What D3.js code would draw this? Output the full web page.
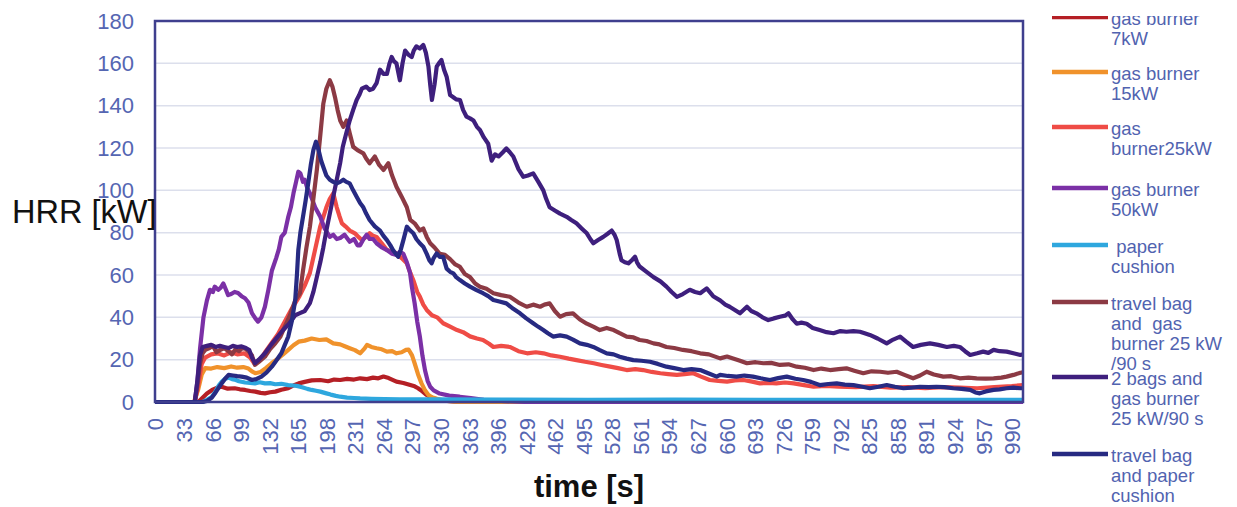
<!DOCTYPE html>
<html>
<head>
<meta charset="utf-8">
<script src="https://cdn.jsdelivr.net/npm/d3@7"></script>
<style>
  html, body { margin: 0; padding: 0; background: #ffffff; }
  svg { display: block; font-family: "Liberation Sans", Arial, sans-serif; }
</style>
</head>
<body>
<svg id="chart" width="1237" height="507"></svg>
<script>
// ---------------- DATA ----------------
const xTickValues = d3.range(0, 991, 33);       // 0, 33, ..., 990
const yTickValues = [0, 20, 40, 60, 80, 100, 120, 140, 160, 180];
const timeMax = 1003;

const seriesNames = [
  "gas burner 7kW", "gas burner 15kW", "gas burner25kW", "gas burner 50kW",
  "paper cushion", "travel bag and gas burner 25 kW/90 s",
  "2 bags and gas burner 25 kW/90 s", "travel bag and paper cushion"
];
const legendLines = [
  ["gas burner", "7kW"],
  ["gas burner", "15kW"],
  ["gas", "burner25kW"],
  ["gas burner", "50kW"],
  [" paper", "cushion"],
  ["travel bag", "and  gas", "burner 25 kW", "/90 s"],
  ["2 bags and", "gas burner", "25 kW/90 s"],
  ["travel bag", "and paper", "cushion"]
];
const seriesColors = ["#b51f25", "#f0922b", "#ef4c46", "#7b30a6", "#2ea7de", "#8c3a44", "#3e1f7d", "#272a82"];

// [time s, HRR kW]
const gasBurner7 = [[0,0],[50,0],[55,2],[60,4],[66,5.7],[72,6.8],[77,7.2],[84,6.3],[92,6.5],[98,6],[104,5.7],[110,5.2],[116,4.9],[122,4.3],[127,4.1],[133,4.6],[139,4.9],[146,5.8],[154,6.5],[160,7.8],[166,8.8],[173,9.5],[181,10.2],[191,10.4],[200,9.8],[207,10.6],[214,10.4],[222,10.9],[230,10.6],[237,11.2],[245,10.8],[252,11.5],[258,11.2],[264,12],[270,11.3],[279,9.6],[287,9],[295,8],[300,7.4],[304,6.5],[309,5],[314,3.3],[318,2.4],[322,1.7],[330,0.8],[345,0.3],[370,0],[1003,0]];

const gasBurner15 = [[0,0],[45,0],[50,6],[54,13],[58,16],[65,15.8],[72,16.5],[80,16],[88,16.8],[95,16.2],[102,16.5],[108,15.8],[112,14.5],[116,13.6],[122,14.2],[128,16],[135,18.4],[142,20.5],[148,22.5],[154,24.6],[160,26.8],[166,28.5],[173,29],[181,30],[190,29.3],[198,29.6],[206,27.7],[214,27.2],[220,26.2],[225,25.4],[231,24.5],[237,23],[242,25.2],[245,27],[250,26],[256,25.4],[262,24.9],[268,23.8],[274,24],[279,23],[285,23.5],[290,24.6],[293,24.8],[297,22],[300,18.3],[304,13],[308,8.8],[312,5.5],[316,3.3],[320,2.2],[326,1.5],[335,0.6],[350,0],[1003,0]];

const gasBurner25 = [[0,0],[46,0],[50,8],[54,18],[58,21],[65,22.5],[72,23],[80,22],[88,23.5],[95,22.5],[103,23],[110,21],[115,18],[122,20],[128,24],[135,28],[142,32],[150,38],[158,44],[167,50],[173,55],[179,61],[185,72],[191,83],[198,92],[202,96],[206,98.6],[210,92],[213,88],[216,84.4],[220,83],[225,81],[231,79.7],[235,78],[239,76.5],[244,78],[248,79.7],[252,78.5],[256,78],[262,75],[268,71.8],[274,71],[279,70.2],[285,68],[291,65.5],[295,61],[299,57],[303,52],[306,49.8],[310,46],[314,43.5],[320,41],[326,40],[333,37.2],[341,35.6],[349,34],[356,33],[364,31],[372,30],[379,29.3],[386,27.5],[391,26],[400,26.5],[410,26],[420,24],[430,23],[440,23.5],[449,23],[458,22],[468,21.4],[478,20.5],[487,19.8],[497,19],[507,18.3],[516,17.5],[526,16.7],[535,16],[545,15.1],[555,15.5],[564,15.1],[574,14.2],[584,13.6],[593,13.2],[603,12.8],[612,13.2],[622,13.6],[631,12],[641,10.4],[651,10],[661,9.6],[670,10.2],[680,10.4],[690,9.6],[699,8.8],[709,9],[718,8.8],[728,9.2],[738,8.8],[750,8],[761,7.2],[775,7.6],[790,7.2],[810,7],[830,7.5],[850,6.8],[870,7],[890,6.5],[910,7],[930,6.8],[950,6.5],[970,7],[990,7.5],[1003,8]];

const gasBurner50 = [[0,0],[46,0],[49,10],[52,25],[56,40],[60,48],[63.5,53],[67,52],[69,54.5],[73,53],[76,54],[79,56],[82,53],[84.5,50.5],[88,51],[92,52],[96,51.5],[100,50],[104,49],[108,47],[112,42],[116,39.5],[119,38],[123,40],[127,45],[131,53],[135,62],[140,68],[143,72],[146,78],[150,80],[154,87.5],[157,92],[160,98.6],[163,104],[165.6,108.8],[168,108],[171,104],[173,105],[176,101],[179,98.6],[185,92],[191,87.5],[196,82],[202,78],[206,79],[210,77],[214,77.5],[219,79],[225,75.7],[230,77],[234,74],[237,74],[241,77],[244.6,79],[248,77],[252,77],[256,75],[262,73],[268,71.8],[274,70],[279,69.4],[283,71],[287,70],[291,66],[294.7,61],[297,54],[300,46.7],[303,38],[306,31],[309,22],[312,15],[315,10],[318,7.2],[322,5.5],[329,4],[340,3],[352,2.5],[365,1.8],[380,1],[400,0.5],[430,0],[1003,0]];

const paperCushion = [[0,0],[55,0],[60,1],[65.5,2.4],[70,5],[74,8],[77,9.5],[81,11],[85,11.5],[89,10.8],[92,10.6],[97,9.8],[104,9.2],[110,9],[115.5,8.8],[121,9.3],[127,8.8],[133,8.9],[139,8.4],[146,8.6],[154,8],[160,7.8],[165,7.5],[170,7],[176,6.2],[181,5.7],[186,5.3],[191,4.9],[197,4.2],[203,3.5],[209,2.9],[214,2.5],[222,2.1],[230,1.9],[237,1.7],[250,1.5],[265,1.4],[283,1.3],[320,1.2],[400,1.1],[500,1],[600,1.1],[700,1],[800,1],[900,1],[1003,1]];

const travelBagGasBurner = [[0,0],[46,0],[49,8],[52,18],[55,23],[58,24.6],[63,25.5],[67,26.5],[71,23.5],[75,24.5],[80,25.5],[85,24],[89,22.5],[93,25],[97,24],[101,25.5],[105,25],[109,23.5],[112,22],[115.5,17.6],[120,19],[127,21.4],[133,25],[139,27.7],[145,31],[150,35.6],[156,41],[162,48],[167.5,51.5],[171,62],[175,73],[179,82.8],[183,96],[187,109.6],[191,126],[194.5,141],[198,148],[202,152],[205,149],[208,144],[211,138],[214,133],[217.6,130],[221.5,133],[225,127],[229,120.6],[234,119],[240.7,117.5],[244,115],[248,112.8],[254,116],[259,112],[264,109.6],[269.6,112.8],[274,107],[279,101.7],[285,97],[291,92],[295,86],[300,84.4],[306,81],[310,82],[314,78],[318,75],[323,73],[329,70],[335,69.5],[341,67.5],[347,65],[352,64],[358,60.5],[364,59],[370,56],[375.5,54.5],[383,53.5],[391,51.4],[400,50.5],[410,49.7],[420,47],[429.5,45],[437,46],[445,45],[450,46],[456,46.6],[462,43],[468,40.3],[475,41.5],[483,41.9],[491,39],[499,37],[507,35.5],[514,34],[522,35],[530,34],[537,32.5],[545,30.9],[553,30.5],[560,29.3],[568,28.8],[576,27.7],[583,27.2],[591,26],[600,25.5],[610,24.6],[620,24],[630,23],[640,22.5],[653,20.6],[661,21.5],[668,20.6],[676,19.5],[684,18.3],[694,18.8],[703,18.3],[712,18.5],[722,17.5],[732,17.8],[741.5,16.7],[751,16.2],[761,15.1],[770,15.8],[780,15.1],[790,15.5],[799,15.9],[808,14.8],[818.5,13.6],[828,14.5],[838,14.3],[847,13.8],[857,14.3],[866,12.8],[876,11.2],[884,12.5],[891.7,14.3],[900,13],[911,12],[920,12.2],[930,11.2],[940,11.5],[949.5,11.2],[960,11],[969,11.2],[978,11.5],[984,12],[992,12.8],[1000,13.8],[1003,14]];

const twoBagsGasBurner = [[0,0],[46,0],[49,10],[52,22],[55,26],[60,26.5],[65,27],[70,26],[75,26.5],[80,26],[85,25.5],[90,26.5],[95,26],[100,26.3],[105,25.5],[109,24.5],[112,21],[115.5,18.4],[120,20],[127,23],[134,27],[142,31],[148,34],[155,37],[162,41],[167.5,42],[173,43],[179,46.7],[183,52],[187,59],[191,66],[194.5,73],[198,81],[202,89],[206,97],[210,105],[214,113],[217,120.6],[221,127],[225,133],[229,138],[233,142.7],[236,145],[239,148],[244,149],[248,147.4],[252,148],[256,150.6],[260,157],[264,155],[268,155],[271,160],[273.5,163],[276,161],[279,160],[283,152],[286,160],[289,166],[293,164],[296.6,163],[299,166],[302,168],[306,167],[310,168.7],[313,165],[316,158.4],[318,150],[320,142.7],[323,150],[325.5,158.4],[328,160],[331,161.6],[334,157],[337,153.7],[341,145],[344.7,144],[348,143],[352.4,142.7],[356,138],[360,134.8],[364,134],[368,133],[372,130],[375.5,128.5],[380,125],[385,122],[389,114],[393,117],[397,116],[402,118],[406,119.8],[410,118],[414,116],[420,110],[425.6,106.4],[431,107],[437,108],[443,104],[448.7,100],[452,96],[456,92],[462,90.5],[468,89],[475.7,87.5],[481,86],[487,84.4],[493,82],[499,79.7],[503,77],[506.5,75],[512,76.5],[518,78],[523,79.5],[527.7,81],[531,79],[533.5,76.5],[537,70],[539,67],[543,66],[547,65.5],[551,67],[554.7,68.6],[557,66],[560,64],[568,61.5],[576,59],[584,57],[591,54.5],[597,52],[603,49.7],[610,51],[618,53],[624,52],[630,51.4],[637.5,53.7],[645,50],[653,48],[659,46],[664,45],[670,43.5],[676,41.9],[684,45],[689,43],[695,41.9],[702,40],[708.7,38.7],[715,39.5],[722,40.3],[728,40.8],[732,41.9],[737,39],[741.5,37],[747,37.5],[753,37],[760,35],[768,34],[776,33],[784,32.5],[792,33.5],[799,33.2],[807,33.5],[814.6,33.2],[820,32.5],[826,31.7],[835,30],[845.5,27.7],[853,29.5],[861,30.9],[868,28.5],[876,26],[885,27],[895.5,27.7],[905,27],[915,26],[923,26.5],[930,26],[936,24],[942,22.2],[950,23],[957,23.8],[963,23.2],[969,24.6],[976,24],[984,23.8],[992,23],[1000,22.2],[1003,22.5]];

const travelBagPaperCushion = [[0,0],[55,0],[60,0.5],[65.5,2],[70,4.5],[74,7],[77,8.8],[81,11],[85,12.8],[90,12.5],[95,12.2],[100,12],[106,11.5],[112,10.4],[117,10.8],[123,12],[129,14],[135,16.7],[140,19.5],[146,23],[150,27],[154,30.9],[158,38],[162,48],[164,60],[165.6,71.8],[168,80],[171,87.5],[174,95],[177,103.3],[180,112],[183,119],[186,123],[189,119],[192,114],[194.5,111],[198,107],[202,105],[206,104],[210,103.3],[214,104],[217.6,105],[221,104],[225,103.3],[229,100],[233,97],[237,94],[240.7,92],[244,89],[248,86],[254,83],[260,81],[264,78.5],[268,76.5],[272,74],[275,71.8],[281,68.6],[284,72],[287,76.5],[291,82.8],[295,81],[298.5,79.7],[302,77],[306,75],[310,73.4],[314,70],[317,67],[319.7,65.5],[322,68],[325.5,70.2],[329,68.6],[333,68.6],[337,63],[341,61.5],[344.7,60.8],[348,59],[352.4,57.6],[358,56],[364,54.5],[371,53],[379,51.4],[385,50],[391,48.2],[398,47.5],[406,46.6],[414,44],[421.8,41.9],[429,39.5],[437,37.2],[443,35.5],[448.7,34],[454,32.5],[460,30.9],[468,31.5],[475.7,30.9],[483,29.5],[491,27.7],[499,27],[506.5,26],[514,24.5],[522,23],[530,22.5],[537,21.4],[545,20.5],[552.7,19.8],[562,19.5],[572,19],[581,18],[591,16.7],[600,16],[610.5,15.1],[620,15.5],[630,15.1],[640,13.5],[649,12],[653,12.8],[662,12.3],[672,12],[681,12.5],[691,12],[700,11.2],[710.6,10.4],[720,11.3],[730,12],[740,11],[749,10.4],[758,9.5],[768,8],[778,8.5],[787.7,8.8],[797,8.2],[807,8],[816,7.3],[826,6.5],[836,7.2],[845.5,8],[855,7.2],[865,6.5],[874,6.8],[884,7.2],[894,7],[903,7.2],[912,7],[922.5,6.5],[932,6.2],[942,5.7],[948,4.5],[953,4.1],[960,5],[969,5.7],[976,6],[984,6.5],[992,6.8],[1000,6.5],[1003,6.5]];

const seriesData = [gasBurner7, gasBurner15, gasBurner25, gasBurner50, paperCushion,
                    travelBagGasBurner, twoBagsGasBurner, travelBagPaperCushion];

// ---------------- LAYOUT ----------------
const plot = { left: 155, right: 1023, top: 21, bottom: 402 };
const axisColor = "#3f3f8e";
const tickColor = "#5566b2";
const legendTextColor = "#5163b0";
const legendYs = [17, 72, 127, 188, 245, 302, 377, 454];

const svg = d3.select("#chart");

const x = d3.scaleLinear().domain([0, timeMax]).range([plot.left, plot.right]);
const y = d3.scaleLinear().domain([0, 180]).range([plot.bottom, plot.top]);

// gridlines
svg.append("g")
  .selectAll("line")
  .data(yTickValues.filter(v => v > 0 && v < 180))
  .join("line")
  .attr("x1", plot.left).attr("x2", plot.right)
  .attr("y1", d => y(d)).attr("y2", d => y(d))
  .attr("stroke", "#dcdfec").attr("stroke-width", 1.5);

// clip for series
svg.append("clipPath").attr("id", "plotclip")
  .append("rect")
  .attr("x", plot.left).attr("y", plot.top - 2)
  .attr("width", plot.right - plot.left).attr("height", plot.bottom - plot.top + 4);

const line = d3.line().x(d => x(d[0])).y(d => y(d[1]));

svg.append("g").attr("clip-path", "url(#plotclip)")
  .selectAll("path")
  .data(seriesData)
  .join("path")
  .attr("d", d => line(d))
  .attr("fill", "none")
  .attr("stroke", (d, i) => seriesColors[i])
  .attr("stroke-width", 4.2)
  .attr("stroke-linejoin", "round")
  .attr("stroke-linecap", "round");

// plot border
svg.append("rect")
  .attr("x", plot.left).attr("y", plot.top)
  .attr("width", plot.right - plot.left).attr("height", plot.bottom - plot.top)
  .attr("fill", "none").attr("stroke", axisColor).attr("stroke-width", 2.5);

// y axis
const yAxis = svg.append("g")
  .attr("transform", `translate(${plot.left},0)`)
  .call(d3.axisLeft(y).tickValues(yTickValues).tickSize(0).tickPadding(21));
yAxis.select(".domain").remove();
yAxis.selectAll("text")
  .attr("fill", tickColor)
  .style("font-size", "22px")
  .style("font-family", "'Liberation Sans', Arial, sans-serif");

// x axis
const xAxis = svg.append("g")
  .attr("transform", `translate(0,${plot.bottom})`)
  .call(d3.axisBottom(x).tickValues(xTickValues).tickFormat(d3.format("d")).tickSize(0));
xAxis.select(".domain").remove();
xAxis.selectAll("text")
  .attr("transform", "rotate(-90)")
  .attr("x", -16)
  .attr("y", 0)
  .attr("dy", "0.36em")
  .style("text-anchor", "end")
  .attr("fill", tickColor)
  .style("font-size", "22px")
  .style("font-family", "'Liberation Sans', Arial, sans-serif");

// axis titles
svg.append("text")
  .attr("x", 12).attr("y", 223)
  .attr("fill", "#111")
  .style("font-size", "32.5px")
  .text("HRR [kW]");

svg.append("text")
  .attr("x", (plot.left + plot.right) / 2).attr("y", 497)
  .attr("text-anchor", "middle")
  .attr("fill", "#111")
  .style("font-size", "31px")
  .style("font-weight", "bold")
  .text("time [s]");

// legend
svg.append("clipPath").attr("id", "legclip")
  .append("rect").attr("x", 1040).attr("y", 16).attr("width", 200).attr("height", 500);

const legend = svg.append("g").attr("clip-path", "url(#legclip)");
const items = legend.selectAll("g")
  .data(seriesNames)
  .join("g")
  .attr("transform", (d, i) => `translate(0,${legendYs[i]})`);

items.append("line")
  .attr("x1", 1052).attr("x2", 1108)
  .attr("y1", 0).attr("y2", 0)
  .attr("stroke", (d, i) => seriesColors[i])
  .attr("stroke-width", 4.5);

items.append("text")
  .attr("x", 1111)
  .attr("y", 8)
  .attr("fill", legendTextColor)
  .style("font-size", "18.5px")
  .style("white-space", "pre")
  .each(function(d, i) {
    d3.select(this).selectAll("tspan")
      .data(legendLines[i])
      .join("tspan")
      .attr("x", 1111)
      .attr("dy", (t, j) => j === 0 ? 0 : 20)
      .text(t => t);
  });
</script>
</body>
</html>
